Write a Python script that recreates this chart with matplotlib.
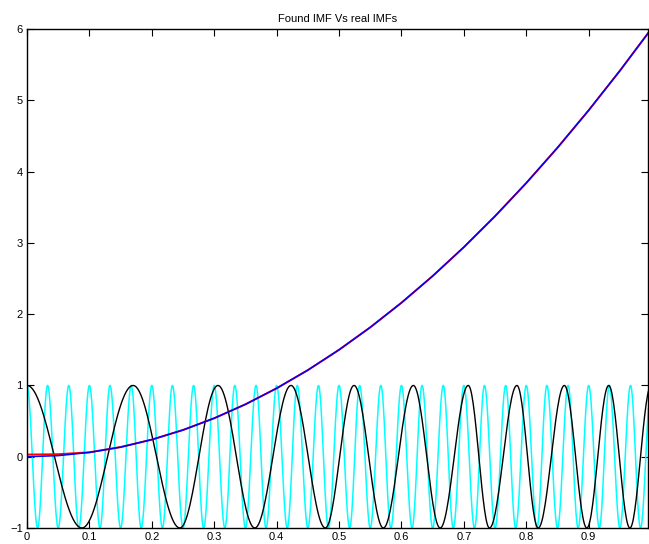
import numpy as np
import matplotlib
matplotlib.use('Agg')
import matplotlib.pyplot as plt

plt.rcParams['font.family'] = ['Liberation Sans', 'DejaVu Sans']

# extrema of the black (chirp) IMF, alternating +1 / -1
black_ext_t = [0.0, 0.088, 0.170, 0.245, 0.306, 0.365, 0.423, 0.478, 0.524, 0.571,
               0.619, 0.662, 0.707, 0.741, 0.785, 0.819, 0.861, 0.897, 0.932, 0.966, 1.0]
black_ext_v = [1, -1, 1, -1, 1, -1, 1, -1, 1, -1, 1, -1, 1, -1, 1, -1, 1, -1, 1, -1, 1]

# extrema of the cyan (fast) IMF, peaks and troughs
cyan_ext_t = [0.000, 0.017, 0.033, 0.050, 0.067, 0.083, 0.100, 0.117, 0.133, 0.150,
              0.167, 0.183, 0.200, 0.217, 0.233, 0.250, 0.267, 0.283, 0.300, 0.317,
              0.333, 0.350, 0.367, 0.383, 0.400, 0.417, 0.433, 0.450, 0.467, 0.483,
              0.500, 0.517, 0.533, 0.550, 0.567, 0.583, 0.600, 0.617, 0.633, 0.650,
              0.667, 0.683, 0.700, 0.717, 0.733, 0.750, 0.767, 0.783, 0.800, 0.817,
              0.833, 0.850, 0.867, 0.883, 0.900, 0.917, 0.933, 0.950, 0.967, 0.983, 1.000]
cyan_ext_v = [1, -1] * 30 + [1]

# trend: real (blue) and found (red)
trend_t = [0.0, 0.05, 0.1, 0.15, 0.2, 0.25, 0.3, 0.35, 0.4, 0.45, 0.5,
           0.55, 0.6, 0.65, 0.7, 0.75, 0.8, 0.85, 0.9, 0.95, 0.995]
trend_real = [0.0, 0.015, 0.06, 0.135, 0.24, 0.375, 0.54, 0.735, 0.96, 1.215, 1.5,
              1.815, 2.16, 2.535, 2.94, 3.375, 3.84, 4.335, 4.86, 5.415, 5.94]
trend_found = [0.03, 0.035, 0.062, 0.135, 0.24, 0.375, 0.54, 0.735, 0.96, 1.215, 1.5,
               1.815, 2.16, 2.535, 2.94, 3.375, 3.84, 4.335, 4.86, 5.415, 5.94]

t_end = 0.995


def wave_from_extrema(ts, vs, n=30):
    # half-cosine between consecutive extrema
    xs, ys = [], []
    for i in range(len(ts) - 1):
        s = np.linspace(0, 1, n, endpoint=False)
        xs.append(ts[i] + s * (ts[i + 1] - ts[i]))
        ys.append(vs[i] * np.cos(np.pi * s))
    xs.append([ts[-1]])
    ys.append([vs[-1]])
    return np.concatenate(xs), np.concatenate(ys)


fig = plt.figure(figsize=(6.49, 5.44), dpi=100)
ax = fig.add_axes([27 / 649, 16 / 544, 621 / 649, 499 / 544])

bx, by = wave_from_extrema(black_ext_t, black_ext_v)
cx, cy = wave_from_extrema(cyan_ext_t, cyan_ext_v)

ax.plot(cx, cy, color='cyan', lw=1.1)
ax.plot(bx, by, color='black', lw=1.0)
ax.plot(trend_t, trend_found, color='red', lw=1.4)
ax.plot(trend_t, trend_real, color='blue', lw=1.1)

ax.set_xlim(0, t_end)
ax.set_ylim(-1, 6)
ax.set_xticks([0, 0.1, 0.2, 0.3, 0.4, 0.5, 0.6, 0.7, 0.8, 0.9])
ax.set_xticklabels(['0', '0.1', '0.2', '0.3', '0.4', '0.5', '0.6', '0.7', '0.8', '0.9'])
ax.set_yticks([-1, 0, 1, 2, 3, 4, 5, 6])
ax.tick_params(direction='in', length=5, width=0.8, labelsize=8, top=True, right=True, pad=3)
for sp in ax.spines.values():
    sp.set_linewidth(1.0)

ax.set_title('Found IMF Vs real IMFs', fontsize=8, pad=5)

plt.savefig('out.png', dpi=100)
